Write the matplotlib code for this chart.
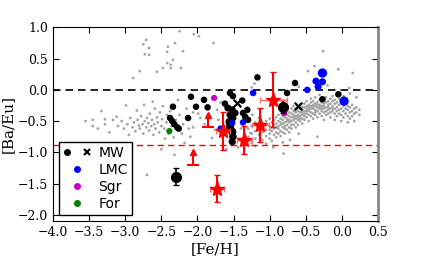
import matplotlib
matplotlib.use("Agg")
import matplotlib.pyplot as plt
from matplotlib.lines import Line2D
from matplotlib.legend_handler import HandlerTuple

# grey comparison sample
grey_upper = [(-2.25, 0.94), (-2.05, 0.89), (-1.98, 0.86), (-2.71, 0.80), (-2.75, 0.73),
              (-2.67, 0.67), (-2.41, 0.69), (-2.31, 0.75), (-2.42, 0.61), (-2.73, 0.57),
              (-2.67, 0.56), (-2.20, 0.62), (-2.34, 0.48), (-2.42, 0.43), (-2.37, 0.40),
              (-2.48, 0.35), (-2.37, 0.35), (-2.23, 0.35), (-2.56, 0.29), (-2.80, 0.30),
              (-2.89, 0.19), (-1.78, 0.75), (-0.26, 0.62), (-0.05, 0.33), (0.15, 0.27),
              (-0.47, 0.30), (-0.38, 0.38), (-1.25, 0.04), (-1.21, 0.10), (-0.20, 0.07),
              (0.10, 0.03), (-0.60, 0.05)]

grey_left = [(-3.55, -0.50), (-3.45, -0.48), (-3.45, -0.58), (-3.38, -0.62), (-3.33, -0.34),
             (-3.28, -0.47), (-3.28, -0.55), (-3.22, -0.68), (-3.17, -0.48), (-3.12, -0.43),
             (-3.10, -0.58), (-3.05, -0.50), (-3.02, -0.62), (-2.99, -0.25), (-2.97, -0.55),
             (-2.95, -0.72), (-2.93, -0.45), (-2.90, -0.60), (-2.88, -0.52), (-2.86, -0.66),
             (-2.84, -0.33), (-2.83, -0.48), (-2.81, -0.57), (-2.80, -0.62), (-2.78, -0.42),
             (-2.76, -0.55), (-2.75, -0.70), (-2.74, -0.24), (-2.73, -0.50), (-2.71, -0.60),
             (-2.70, -0.45), (-2.68, -0.53), (-2.67, -0.65), (-2.66, -0.38), (-2.64, -0.58),
             (-2.63, -0.48), (-2.62, -0.19), (-2.61, -0.72), (-2.60, -0.55), (-2.59, -0.30),
             (-2.58, -0.62), (-2.56, -0.44), (-2.55, -0.52), (-2.53, -0.68), (-2.52, -0.36),
             (-2.50, -0.58), (-2.49, -0.47), (-2.48, -0.26), (-2.46, -0.62), (-2.45, -0.78),
             (-2.43, -0.52), (-2.42, -0.40), (-2.40, -0.70), (-2.38, -0.34), (-2.36, -0.58),
             (-2.33, -0.76), (-2.30, -0.48), (-2.28, -0.62), (-2.27, -0.16), (-2.25, -0.40),
             (-2.22, -0.70), (-2.20, -0.55), (-2.18, -0.85), (-2.15, -0.30), (-2.12, -0.62),
             (-2.10, -0.75), (-2.70, -1.36), (-2.95, -1.92), (-2.32, -1.04), (-2.50, -0.95)]

grey_mid = [(-2.06, -0.36), (-1.99, -0.38), (-2.06, -0.60), (-1.96, -0.45), (-1.73, -0.32),
            (-1.71, -0.48), (-1.68, -0.20), (-1.76, -0.64), (-1.80, -0.77), (-1.24, -0.40),
            (-1.17, -0.60), (-1.27, -0.69), (-1.48, -0.85), (-1.90, -0.55), (-1.62, -0.72),
            (-1.40, -0.62), (-1.44, -0.92), (-1.35, -0.44), (-1.85, -0.30), (-1.60, -0.95)]

grey_right = [
    (-1.30, -0.62), (-1.30, -0.75), (-1.30, -0.50),
    (-1.25, -0.70), (-1.25, -0.58), (-1.25, -0.85),
    (-1.20, -0.66), (-1.20, -0.52), (-1.20, -0.78), (-1.20, -0.90),
    (-1.15, -0.72), (-1.15, -0.60), (-1.15, -0.45),
    (-1.10, -0.68), (-1.10, -0.80), (-1.10, -0.55), (-1.10, -0.62),
    (-1.05, -0.74), (-1.05, -0.50), (-1.05, -0.64), (-1.05, -0.86),
    (-1.00, -0.58), (-1.00, -0.70), (-1.00, -0.46), (-1.00, -0.78), (-1.00, -0.64),
    (-0.97, -0.52), (-0.97, -0.66), (-0.97, -0.60), (-0.97, -0.82),
    (-0.94, -0.62), (-0.94, -0.48), (-0.94, -0.72), (-0.94, -0.56),
    (-0.91, -0.54), (-0.91, -0.68), (-0.91, -0.44), (-0.91, -0.76), (-0.91, -0.60),
    (-0.88, -0.50), (-0.88, -0.62), (-0.88, -0.70), (-0.88, -0.40), (-0.88, -0.58),
    (-0.85, -0.56), (-0.85, -0.46), (-0.85, -0.66), (-0.85, -0.74), (-0.85, -0.52),
    (-0.82, -0.48), (-0.82, -0.60), (-0.82, -0.42), (-0.82, -0.68), (-0.82, -0.54), (-0.82, -0.84),
    (-0.79, -0.52), (-0.79, -0.44), (-0.79, -0.62), (-0.79, -0.36), (-0.79, -0.58), (-0.79, -0.70),
    (-0.76, -0.46), (-0.76, -0.56), (-0.76, -0.40), (-0.76, -0.64), (-0.76, -0.50), (-0.76, -0.32),
    (-0.73, -0.42), (-0.73, -0.52), (-0.73, -0.60), (-0.73, -0.36), (-0.73, -0.48), (-0.73, -0.68),
    (-0.70, -0.44), (-0.70, -0.38), (-0.70, -0.56), (-0.70, -0.50), (-0.70, -0.30), (-0.70, -0.62),
    (-0.67, -0.40), (-0.67, -0.48), (-0.67, -0.34), (-0.67, -0.56), (-0.67, -0.44), (-0.67, -0.26),
    (-0.64, -0.36), (-0.64, -0.46), (-0.64, -0.52), (-0.64, -0.30), (-0.64, -0.42), (-0.64, -0.60),
    (-0.61, -0.40), (-0.61, -0.34), (-0.61, -0.48), (-0.61, -0.28), (-0.61, -0.44), (-0.61, -0.56),
    (-0.58, -0.36), (-0.58, -0.42), (-0.58, -0.30), (-0.58, -0.50), (-0.58, -0.24), (-0.58, -0.46),
    (-0.55, -0.32), (-0.55, -0.40), (-0.55, -0.46), (-0.55, -0.28), (-0.55, -0.36), (-0.55, -0.54),
    (-0.52, -0.34), (-0.52, -0.28), (-0.52, -0.42), (-0.52, -0.22), (-0.52, -0.38), (-0.52, -0.48),
    (-0.49, -0.30), (-0.49, -0.38), (-0.49, -0.26), (-0.49, -0.44), (-0.49, -0.34), (-0.49, -0.18),
    (-0.46, -0.28), (-0.46, -0.34), (-0.46, -0.40), (-0.46, -0.24), (-0.46, -0.32), (-0.46, -0.50),
    (-0.43, -0.26), (-0.43, -0.36), (-0.43, -0.30), (-0.43, -0.20), (-0.43, -0.42), (-0.43, -0.14),
    (-0.40, -0.30), (-0.40, -0.24), (-0.40, -0.38), (-0.40, -0.28), (-0.40, -0.46), (-0.40, -0.18),
    (-0.37, -0.22), (-0.37, -0.32), (-0.37, -0.26), (-0.37, -0.40), (-0.37, -0.12), (-0.37, -0.36),
    (-0.34, -0.28), (-0.34, -0.20), (-0.34, -0.34), (-0.34, -0.44), (-0.34, -0.24),
    (-0.31, -0.24), (-0.31, -0.30), (-0.31, -0.16), (-0.31, -0.38), (-0.31, -0.28), (-0.31, -0.08),
    (-0.28, -0.26), (-0.28, -0.34), (-0.28, -0.20), (-0.28, -0.42), (-0.28, -0.30),
    (-0.25, -0.22), (-0.25, -0.30), (-0.25, -0.16), (-0.25, -0.36), (-0.25, -0.26), (-0.25, -0.48),
    (-0.22, -0.28), (-0.22, -0.20), (-0.22, -0.34), (-0.22, -0.12), (-0.22, -0.40),
    (-0.19, -0.24), (-0.19, -0.32), (-0.19, -0.18), (-0.19, -0.38), (-0.19, -0.28),
    (-0.16, -0.22), (-0.16, -0.30), (-0.16, -0.14), (-0.16, -0.36), (-0.16, -0.44),
    (-0.13, -0.26), (-0.13, -0.18), (-0.13, -0.34), (-0.13, -0.10), (-0.13, -0.30),
    (-0.10, -0.22), (-0.10, -0.30), (-0.10, -0.38), (-0.10, -0.16), (-0.10, -0.48),
    (-0.07, -0.28), (-0.07, -0.20), (-0.07, -0.34), (-0.07, -0.42),
    (-0.04, -0.24), (-0.04, -0.32), (-0.04, -0.14), (-0.04, -0.38),
    (-0.01, -0.30), (-0.01, -0.22), (-0.01, -0.40), (-0.01, -0.50),
    (0.02, -0.26), (0.02, -0.34), (0.02, -0.44), (0.02, -0.10),
    (0.05, -0.30), (0.05, -0.22), (0.05, -0.38),
    (0.08, -0.32), (0.08, -0.42), (0.08, -0.26), (0.08, -0.52),
    (0.11, -0.28), (0.11, -0.36), (0.11, -0.46), (0.11, -0.06),
    (0.14, -0.34), (0.14, -0.24), (0.14, -0.42),
    (0.17, -0.30), (0.17, -0.50), (0.17, -0.38),
    (0.20, -0.36), (0.20, -0.28), (0.20, -0.12),
    (0.24, -0.40), (0.24, -0.32),
    (-0.81, -1.02), (-0.34, -0.75), (-0.72, -0.80), (-0.95, -0.92), (-0.60, -0.70)]

# MW stars, filled circles: (Fe/H, Ba/Eu, size)
mw_dots = [(-2.34, -0.27, 22), (-2.09, -0.11, 22), (-2.02, -0.27, 22), (-1.91, -0.16, 22),
           (-1.86, -0.28, 22), (-2.38, -0.45, 22), (-2.35, -0.50, 22), (-2.32, -0.55, 22),
           (-2.28, -0.60, 22), (-2.26, -0.62, 22), (-2.13, -0.45, 22), (-1.17, 0.20, 22),
           (-0.65, 0.11, 22), (-0.76, -0.05, 22), (-0.05, -0.07, 22), (-0.27, -0.15, 22),
           (-1.38, -0.17, 22), (-1.55, -0.05, 22), (-1.51, -0.10, 22), (-1.31, -0.32, 22),
           (-1.34, -0.43, 22), (-1.37, -0.37, 22), (-1.30, -0.48, 22), (-1.58, -0.29, 26),
           (-1.52, -0.32, 26), (-1.55, -0.40, 26), (-1.48, -0.37, 26), (-1.51, -0.45, 26),
           (-1.56, -0.51, 30), (-1.55, -0.59, 36), (-1.52, -0.67, 36), (-1.51, -0.75, 30),
           (-1.52, -0.83, 26), (-1.62, -0.22, 22)]
mw_errdots = [(-0.81, -0.27, 0.10), (-2.30, -1.39, 0.14)]
mw_cross = [(-1.45, -0.21), (-0.61, -0.26)]

lmc = [(-0.27, 0.27, 45), (-0.36, 0.14, 26), (-0.27, 0.13, 26), (-0.33, 0.05, 26),
       (-0.48, 0.00, 22), (0.03, -0.18, 45), (-1.23, -0.05, 22), (-1.37, -0.52, 22),
       (-1.52, -0.53, 22), (-1.68, -0.62, 22)]
sgr = [(-1.77, -0.13), (-0.80, -0.37)]
fnx = [(-2.39, -0.66)]

# red stars: x, y, xerr, yerr
red_x = [-0.95, -1.13, -1.35, -1.65, -1.73]
red_y = [-0.16, -0.56, -0.80, -0.66, -1.58]
red_xerr = [0.19, 0.12, 0.10, 0.10, 0.10]
red_yerr = [0.44, 0.27, 0.22, 0.30, 0.21]
# lower limits (value, arrow length)
lim_x = [-1.85, -2.06]
lim_y = [-0.60, -1.20]
lim_len = [0.20, 0.20]

fig = plt.figure(figsize=(4.21, 2.61), dpi=100)
ax = fig.add_axes([0.126, 0.153, 0.772, 0.742])

for pts in (grey_upper, grey_left, grey_mid, grey_right):
    ax.scatter([p[0] for p in pts], [p[1] for p in pts], s=4, c="#a4a4a4",
               edgecolors="none", zorder=1)

ax.axhline(0.0, color="k", ls="--", lw=1.2, dashes=(4.5, 3), zorder=2)
ax.axhline(-0.89, color="r", ls="--", lw=1.0, dashes=(4.5, 3), zorder=2)

ax.scatter([p[0] for p in mw_dots], [p[1] for p in mw_dots],
           s=[p[2] for p in mw_dots], c="k", edgecolors="none", zorder=4)
for x, y, e in mw_errdots:
    ax.errorbar(x, y, yerr=e, fmt="o", color="k", ms=7, capsize=2.5, lw=1.2, zorder=4)
ax.scatter([p[0] for p in mw_cross], [p[1] for p in mw_cross], marker="x",
           s=30, c="k", linewidths=1.6, zorder=4)
ax.scatter([p[0] for p in lmc], [p[1] for p in lmc], s=[p[2] for p in lmc],
           c="#0000ff", edgecolors="none", zorder=4)
ax.scatter([p[0] for p in sgr], [p[1] for p in sgr], s=20, c="#cc00cc",
           edgecolors="none", zorder=3)
ax.scatter([p[0] for p in fnx], [p[1] for p in fnx], s=20, c="#008000",
           edgecolors="none", zorder=3)

# red stars with errors
ax.errorbar(red_x, red_y, xerr=red_xerr, fmt="none", ecolor="#ff7070",
            capsize=2.5, lw=1.0, zorder=5)
ax.errorbar(red_x, red_y, yerr=red_yerr, fmt="none", ecolor="r",
            capsize=2.5, lw=1.5, zorder=5)
ax.plot(red_x, red_y, "*", color="r", ms=11, mec="r", zorder=6)

# lower limits: bar at the value, arrow pointing up
for x, y, d in zip(lim_x, lim_y, lim_len):
    ax.plot([x, x], [y, y + d], color="r", lw=1.5, zorder=5)
    ax.plot(x, y, "_", color="r", ms=8, mew=1.5, zorder=5)
    ax.plot(x, y + d, "^", color="r", ms=5, zorder=5)

ax.set_xlim(-4.0, 0.5)
ax.set_ylim(-2.1, 1.0)
ax.set_xticks([-4.0, -3.5, -3.0, -2.5, -2.0, -1.5, -1.0, -0.5, 0.0, 0.5])
ax.set_yticks([-2.0, -1.5, -1.0, -0.5, 0.0, 0.5, 1.0])
ax.tick_params(direction="in", top=True, right=True, length=4, labelsize=9)
for lab in ax.get_xticklabels() + ax.get_yticklabels():
    lab.set_family("DejaVu Serif")
ax.spines["right"].set_color("#888888")
ax.spines["right"].set_linewidth(2)
ax.set_xlabel("[Fe/H]", family="DejaVu Serif", fontsize=11, labelpad=2)
ax.set_ylabel("[Ba/Eu]", family="DejaVu Serif", fontsize=11, labelpad=2)

h_mw = (Line2D([], [], marker="o", ls="", color="k", ms=4),
        Line2D([], [], marker="x", ls="", color="k", ms=4, mew=1.5))
h_lmc = Line2D([], [], marker="o", ls="", color="#0000ff", ms=4)
h_sgr = Line2D([], [], marker="o", ls="", color="#cc00cc", ms=4)
h_for = Line2D([], [], marker="o", ls="", color="#008000", ms=4)
leg = ax.legend([h_mw, h_lmc, h_sgr, h_for], ["MW", "LMC", "Sgr", "For"],
                handler_map={tuple: HandlerTuple(ndivide=None, pad=1.0)},
                loc="lower left", borderaxespad=0.45, fontsize=10,
                fancybox=False, edgecolor="k", framealpha=1, handlelength=1.9,
                borderpad=0.3, labelspacing=0.2, handletextpad=0.6)
leg.get_frame().set_linewidth(1.0)

fig.savefig("out.png", dpi=100)
